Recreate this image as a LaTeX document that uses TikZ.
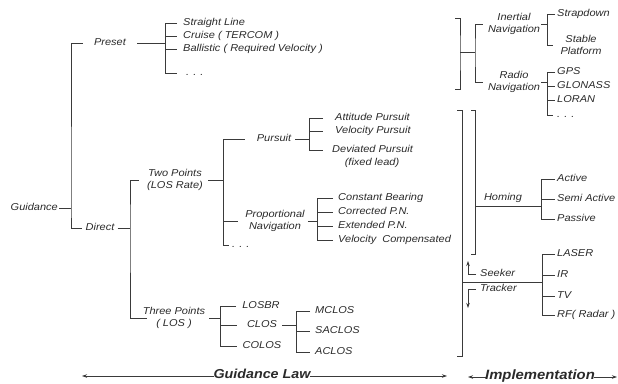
\documentclass[tikz,border=0pt]{standalone}
\usepackage{fontspec}
\setmainfont{Liberation Sans}[FakeStretch=1.1]
\usetikzlibrary{arrows.meta}
\definecolor{txt}{HTML}{2A2A2A}
\definecolor{wire}{HTML}{3A3A3A}
\begin{document}
\begin{tikzpicture}[x=1pt,y=-1pt,
  every node/.style={font=\fontsize{10}{12.5}\selectfont\itshape, text=txt, inner sep=0pt},
  one/.style={text height=7pt, text depth=2pt},
  leaf/.style={anchor=west, one},
  ln/.style={draw=wire, line width=0.75pt},
  arr/.style={ln, -{Stealth[length=5pt,width=3.5pt]}},
  bigtxt/.style={font=\fontsize{#1}{#1}\selectfont\bfseries\itshape, one}]
\useasboundingbox (0,0) rectangle (618,383);

% ---------- Guidance root ----------
\node[anchor=east, one] (guid) at (58,208) {Guidance};
\node[one] (preset) at (110,43) {Preset};
\node[one] (direct) at (100,228) {Direct};
\coordinate (sG) at (71,208);
\draw[ln] ([xshift=1pt]guid.east) -- (sG);
\draw[ln] ([xshift=-11pt]preset.west) -| (sG) |- ([xshift=-3pt]direct.west);

% ---------- Preset ----------
\coordinate (sP) at (165,43);
\draw[ln] ([xshift=11pt]preset.east) -- (sP);
\node[leaf] (sl)  at (183,23) {Straight Line};
\node[leaf] (cr)  at (183,36) {Cruise ( TERCOM )};
\node[leaf] (bal) at (183,49) {Ballistic ( Required Velocity )};
\node[leaf] (pd)  at (186,73) {. . .};
\draw[ln] ([xshift=-6pt]sl.west) -| (sP |- pd) -- ([xshift=-9pt]pd.west);
\draw[ln] (sP |- cr) -- ([xshift=-6pt]cr.west);
\draw[ln] (sP |- bal) -- ([xshift=-6pt]bal.west);

% ---------- Direct ----------
\coordinate (sD) at (130,228);
\draw[ln] ([xshift=3pt]direct.east) -- (sD);
\node[align=center] (two) at (175,180) {Two Points\\(LOS Rate)};
\node[align=center] (three) at (174,318) {Three Points\\( LOS )};
\draw[ln] ([xshift=-8pt]two.west) -| (sD) |- ([xshift=4.5pt]three.west);

% ---------- Two Points ----------
\coordinate (sT) at (223,180);
\draw[ln] ([xshift=5pt]two.east) -- (sT);
\node[one] (purs) at (274,139) {Pursuit};
\node[align=center] (pn) at (275,221) {Proportional\\Navigation};
\node[leaf] (td) at (232,245) {. . .};
\draw[ln] ([xshift=-12pt]purs.west) -| (sT |- td) -- ([xshift=-3pt]td.west);
\draw[ln] (sT |- pn) -- ([xshift=-7pt]pn.west);

% ---------- Pursuit ----------
\coordinate (sPu) at (309,139);
\draw[ln] ([xshift=4pt]purs.east) -- (sPu);
\node[leaf] (att) at (335,118) {Attitude Pursuit};
\node[leaf] (vel) at (335,131) {Velocity Pursuit};
\node[leaf] (dev) at (332,150) {Deviated Pursuit};
\node[one] (fix) at (372,163) {(fixed lead)};
\draw[ln] ([xshift=-12pt]att.west) -| (sPu |- dev) -- ([xshift=-9pt]dev.west);
\draw[ln] (sPu |- vel) -- ([xshift=-12pt]vel.west);

% ---------- Proportional Navigation ----------
\coordinate (sPN) at (317,221);
\draw[ln] ([xshift=3pt]pn.east) -- (sPN);
\node[leaf] (cb)  at (338,198) {Constant Bearing};
\node[leaf] (cpn) at (338,212) {Corrected P.N.};
\node[leaf] (epn) at (338,226) {Extended P.N.};
\node[leaf] (vc)  at (338,240) {Velocity\ \ Compensated};
\draw[ln] ([xshift=-5pt]cb.west) -| (sPN |- vc) -- ([xshift=-5pt]vc.west);
\draw[ln] (sPN |- cpn) -- ([xshift=-5pt]cpn.west);
\draw[ln] (sPN |- epn) -- ([xshift=-5pt]epn.west);

% ---------- Three Points ----------
\coordinate (sTh) at (220,318);
\draw[ln] ([xshift=4pt]three.east) -- (sTh);
\node[one] (losbr) at (261,306) {LOSBR};
\node[one] (clos)  at (262,325) {CLOS};
\node[one] (colos) at (262,346) {COLOS};
\draw[ln] ([xshift=-6pt]losbr.west) -| (sTh |- colos) -- ([xshift=-6pt]colos.west);
\draw[ln] (sTh |- clos) -- ([xshift=-10pt]clos.west);

% ---------- CLOS ----------
\coordinate (sC) at (296,325);
\draw[ln] ([xshift=5pt]clos.east) -- (sC);
\node[leaf] (mc) at (315,311) {MCLOS};
\node[leaf] (sa) at (315,331) {SACLOS};
\node[leaf] (ac) at (315,352) {ACLOS};
\draw[ln] ([xshift=-5pt]mc.west) -| (sC |- ac) -- ([xshift=-5pt]ac.west);
\draw[ln] (sC |- sa) -- ([xshift=-5pt]sa.west);

% ---------- Navigation (top right) ----------
\coordinate (bAt) at (455,18);
\coordinate (bAb) at (455,89);
\coordinate (r1) at (460,52);
\coordinate (r2) at (475,52);
\draw[ln] (bAt) -- ++(5,0) -- (r1) |- (bAb);
\draw[ln] (r1) -- (r2);
\node[align=center] (inav) at (514,24) {Inertial\\Navigation};
\node[align=center] (rnav) at (514,82) {Radio\\Navigation};
\draw[ln] ([xshift=-5pt]inav.west) -| (r2) |- ([xshift=-5pt]rnav.west);

\coordinate (sIN) at (547,24);
\draw[ln] ([xshift=1pt]inav.east) -- (sIN);
\node[leaf] (strap) at (557,14) {Strapdown};
\node[align=center] (stable) at (581,45) {Stable\\Platform};
\draw[ln] ([xshift=-2pt]strap.west) -| (sIN |- stable) -- ([xshift=-7pt]stable.west);

\coordinate (sRN) at (547,82);
\draw[ln] ([xshift=1pt]rnav.east) -- (sRN);
\node[leaf] (gps) at (557,72) {GPS};
\node[leaf] (glo) at (557,86) {GLONASS};
\node[leaf] (lor) at (557,100) {LORAN};
\node[leaf] (rd)  at (557,115) {. . .};
\draw[ln] ([xshift=-2pt]gps.west) -| (sRN |- rd) -- ([xshift=-4pt]rd.west);
\draw[ln] (sRN |- glo) -- ([xshift=-2pt]glo.west);
\draw[ln] (sRN |- lor) -- ([xshift=-2pt]lor.west);

% ---------- Implementation brackets ----------
\coordinate (bBt) at (457,110);
\coordinate (bBb) at (457,356);
\coordinate (bCt) at (471,110);
\coordinate (bCb) at (471,254);
\draw[ln] (bBt) -- ++(5,0) |- (bBb);
\draw[ln] (bCt) -- ++(4,0) |- (bCb);

% Homing
\coordinate (hL) at (475,206);
\coordinate (sH) at (541,206);
\draw[ln] (hL) -- (sH);
\node[one] (homing) at (503,198) {Homing};
\node[leaf] (act)  at (557,179) {Active};
\node[leaf] (semi) at (557,199) {Semi Active};
\node[leaf] (pas)  at (557,219) {Passive};
\draw[ln] ([xshift=-2pt]act.west) -| (sH |- pas) -- ([xshift=-2pt]pas.west);
\draw[ln] (sH |- semi) -- ([xshift=-2pt]semi.west);

% Seeker / Tracker
\coordinate (kL) at (462,282);
\coordinate (sS) at (542,282);
\draw[ln] (kL) -- (sS);
\node[leaf] (seeker)  at (480,274) {Seeker};
\node[leaf] (tracker) at (480,289) {Tracker};
\draw[arr] ([xshift=-4pt]seeker.west) -| ++(-8,-13);
\draw[arr] ([xshift=-4pt]tracker.west) -| ++(-8,19);
\node[leaf] (laser) at (557,254) {LASER};
\node[leaf] (ir)    at (557,275) {IR};
\node[leaf] (tv)    at (557,296) {TV};
\node[leaf] (rf)    at (557,315) {RF( Radar )};
\draw[ln] ([xshift=-2pt]laser.west) -| (sS |- rf) -- ([xshift=-2pt]rf.west);
\draw[ln] (sS |- ir) -- ([xshift=-2pt]ir.west);
\draw[ln] (sS |- tv) -- ([xshift=-2pt]tv.west);

% ---------- Bottom labels ----------
\node[bigtxt=13] (gl) at (262,376) {Guidance Law};
\coordinate (glL) at (82,376);
\coordinate (glR) at (447,376);
\draw[arr] ([xshift=1pt]gl.west) -- (glL);
\draw[arr] ([xshift=-1pt]gl.east) -- (glR);
\node[bigtxt=13.5] (impl) at (540,377) {Implementation};
\coordinate (imL) at (468,377);
\coordinate (imR) at (617,377);
\draw[arr] ([xshift=1pt]impl.west) -- (imL);
\draw[arr] ([xshift=-1pt]impl.east) -- (imR);
\end{tikzpicture}
\end{document}
